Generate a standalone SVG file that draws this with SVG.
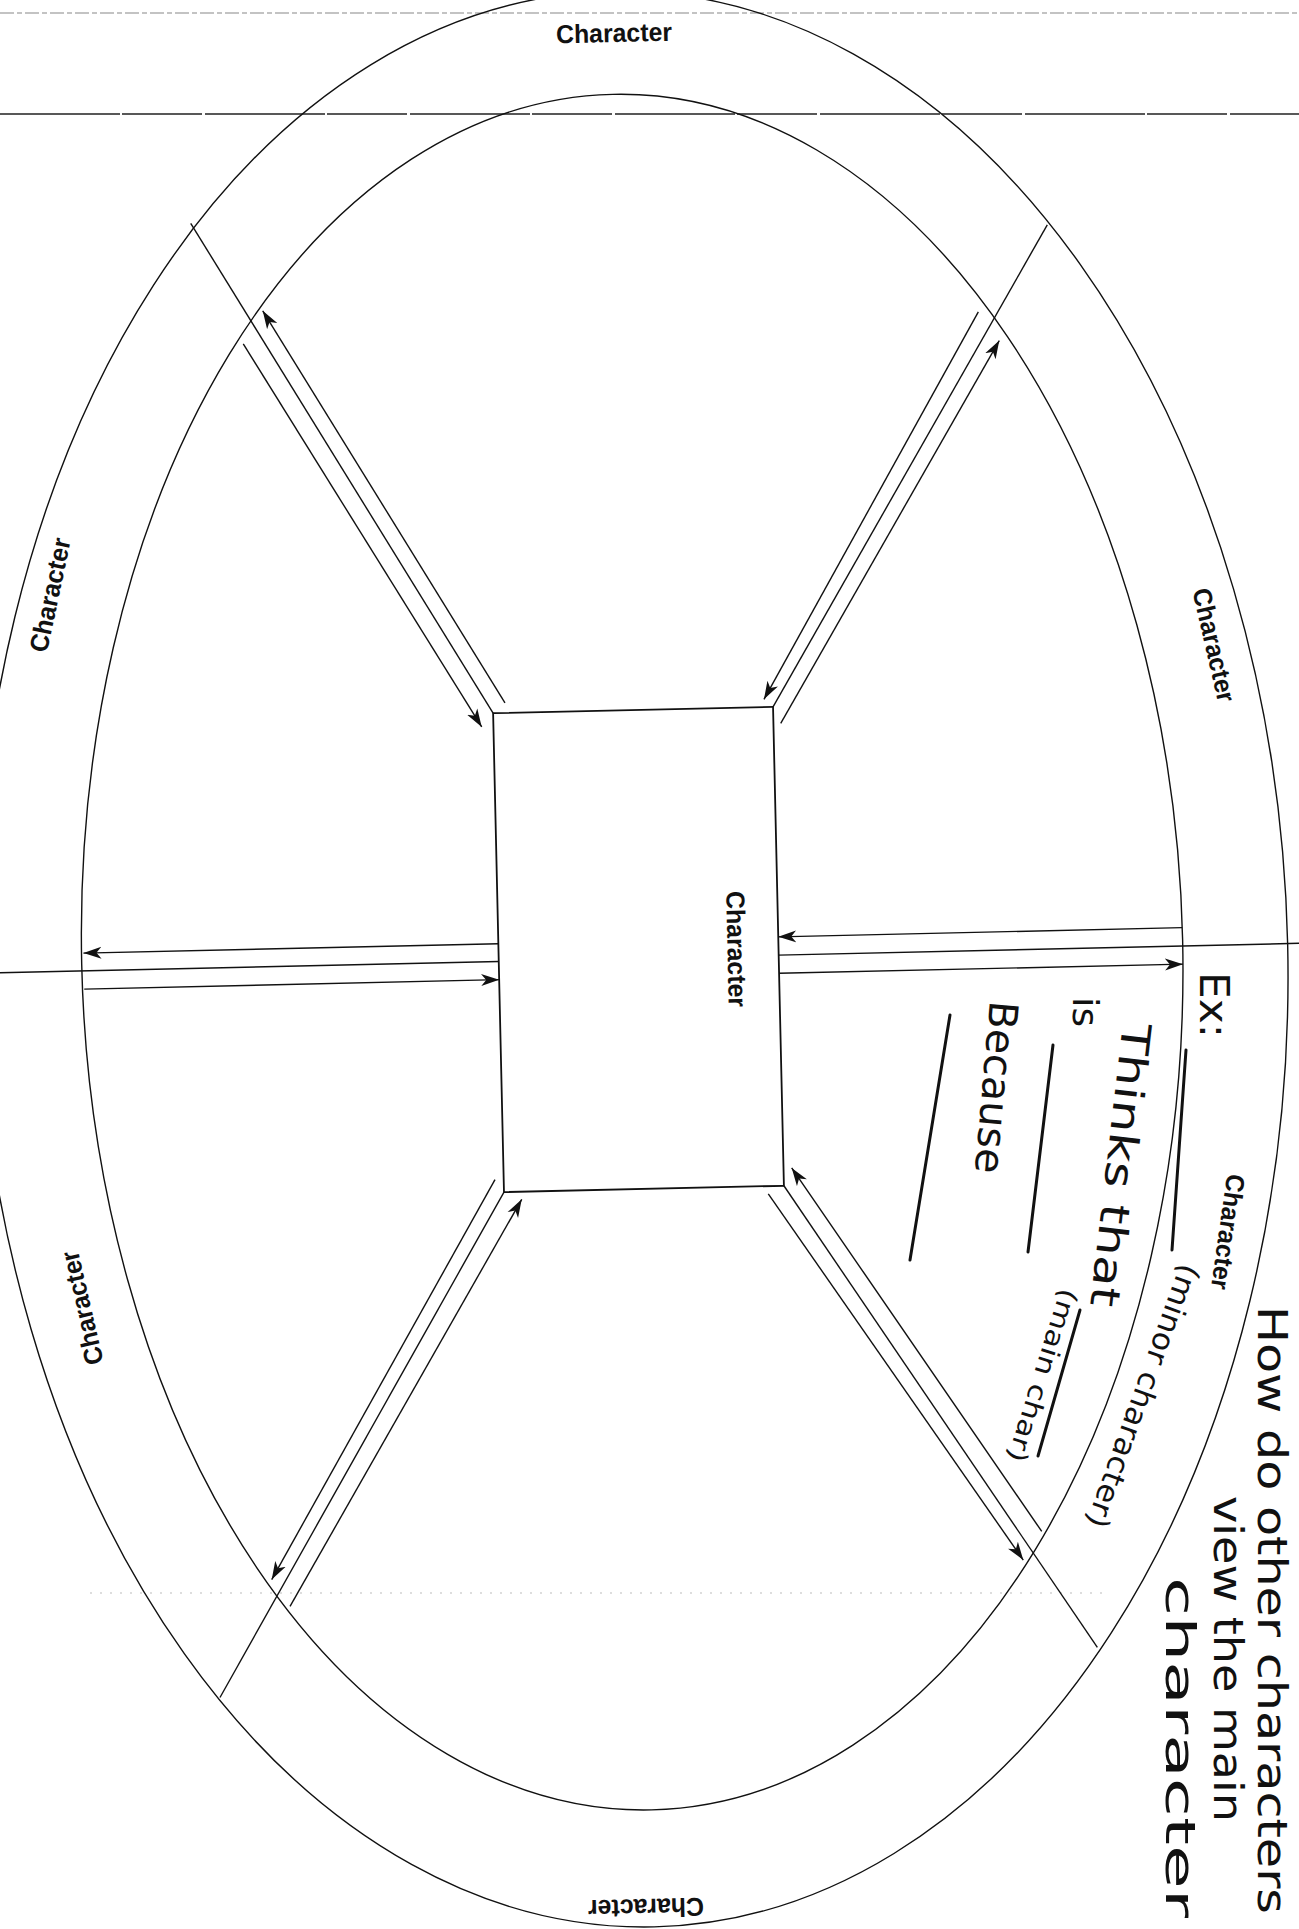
<svg xmlns="http://www.w3.org/2000/svg" width="1299" height="1929" viewBox="0 0 1299 1929">
<defs>
<marker id="ah" markerUnits="userSpaceOnUse" markerWidth="20" markerHeight="14" refX="18" refY="7" orient="auto"><path d="M0,1 L18,7 L0,13 L5,7 Z" fill="#111"/></marker>
</defs>
<style>
.ln{stroke:#111;stroke-width:1.4;fill:none}
.ar{stroke:#111;stroke-width:1.4;fill:none;marker-end:url(#ah)}
.lab{font-family:"Liberation Sans",Arial,sans-serif;font-weight:bold;font-size:26px;fill:#111;text-anchor:middle;dominant-baseline:central}
.hw{font-family:"DejaVu Sans",sans-serif;fill:#111}
.blank{stroke:#111;stroke-width:3;stroke-linecap:round;fill:none}
</style>
<rect width="1299" height="1929" fill="#fff"/>
<g id="page-lines">
<line x1="0" y1="13" x2="1299" y2="13" stroke="#888" stroke-width="1.2" stroke-dasharray="14 3 5 3"/>
<line x1="0" y1="114" x2="1299" y2="114" stroke="#222" stroke-width="1.6" stroke-dasharray="120 2 80 3"/>
<line x1="90" y1="1593" x2="1110" y2="1593" stroke="#bbb" stroke-width="1" stroke-dasharray="2 8"/>
</g>
<g transform="rotate(-1.3 638.5 949)">
<g id="ring">
<ellipse cx="632.1" cy="959" rx="655.5" ry="968" class="ln"/>
<ellipse cx="632.1" cy="952" rx="550.6" ry="858" class="ln"/>
</g>
<g id="center-node"><rect x="498.5" y="710" width="280" height="479" class="ln" style="stroke-width:1.8"/></g>
<g id="connectors">
<line class="ln" x1="498.5" y1="710" x2="207.3" y2="213.4"/>
<line class="ln" x1="778.5" y1="710" x2="1063.6" y2="234.3"/>
<line class="ln" x1="498.5" y1="1189" x2="203.1" y2="1687.8"/>
<line class="ln" x1="778.5" y1="1189" x2="1081.4" y2="1657.7"/>
<line class="ln" x1="-40" y1="958.3" x2="498.5" y2="958.3"/>
<line class="ln" x1="778.5" y1="958.3" x2="1340" y2="958.3"/>
<line class="ar" x1="510.6" y1="699.8" x2="277.3" y2="302.5"/>
<line class="ar" x1="257.1" y1="335.1" x2="486.8" y2="723.4"/>
<line class="ar" x1="992.7" y1="319.8" x2="769.6" y2="702.2"/>
<line class="ar" x1="785.8" y1="726.7" x2="1013" y2="348.9"/>
<line class="ar" x1="489.8" y1="1176.3" x2="257.5" y2="1571.1"/>
<line class="ar" x1="275.2" y1="1598.3" x2="516.1" y2="1196.6"/>
<line class="ar" x1="1028.4" y1="1540.4" x2="786.7" y2="1171.3"/>
<line class="ar" x1="762.7" y1="1196.8" x2="1009.3" y2="1568.6"/>
<line class="ar" x1="498.5" y1="940.5" x2="83.5" y2="940.5"/>
<line class="ar" x1="83.5" y1="976.5" x2="498.5" y2="976.5"/>
<line class="ar" x1="1182.5" y1="940" x2="778.5" y2="940"/>
<line class="ar" x1="778.5" y1="976.5" x2="1182.5" y2="976.5"/>
</g>
</g>
<g id="label-center"><text class="lab" transform="translate(736.5 949) rotate(88.7)" textLength="116" lengthAdjust="spacingAndGlyphs">Character</text></g>
<g id="seg-top"><text class="lab" transform="translate(614 33) rotate(-1.3)" textLength="116" lengthAdjust="spacingAndGlyphs">Character</text></g>
<g id="seg-upper-right"><text class="lab" transform="translate(1214 645) rotate(77)" textLength="116" lengthAdjust="spacingAndGlyphs">Character</text></g>
<g id="seg-lower-right"><text class="lab" transform="translate(1228 1232) rotate(98)" textLength="116" lengthAdjust="spacingAndGlyphs">Character</text></g>
<g id="seg-bottom"><text class="lab" transform="translate(646 1908) rotate(178.7)" textLength="116" lengthAdjust="spacingAndGlyphs">Character</text></g>
<g id="seg-lower-left"><text class="lab" transform="translate(82 1308) rotate(-103)" textLength="116" lengthAdjust="spacingAndGlyphs">Character</text></g>
<g id="seg-upper-left"><text class="lab" transform="translate(50 595) rotate(-78)" textLength="116" lengthAdjust="spacingAndGlyphs">Character</text></g>
<g id="handwriting">
<text class="hw" font-size="40" transform="translate(1258 1306) rotate(90)" textLength="608" lengthAdjust="spacingAndGlyphs">How do other characters</text>
<text class="hw" font-size="40" transform="translate(1214 1496) rotate(90)" textLength="326" lengthAdjust="spacingAndGlyphs">view the main</text>
<text class="hw" font-size="40" transform="translate(1166 1577) rotate(90)" textLength="341" lengthAdjust="spacingAndGlyphs">character</text>
<text class="hw" font-size="40" transform="translate(1200 972) rotate(90)" textLength="66" lengthAdjust="spacingAndGlyphs">Ex:</text>
<text class="hw" font-size="30" transform="translate(1181 1262) rotate(110)" textLength="278" lengthAdjust="spacingAndGlyphs">(minor character)</text>
<text class="hw" font-size="40" transform="translate(1123 1022) rotate(96.6)" textLength="285" lengthAdjust="spacingAndGlyphs">Thinks that</text>
<text class="hw" font-size="26" transform="translate(1061 1287) rotate(107.4)" textLength="180" lengthAdjust="spacingAndGlyphs">(main char)</text>
<text class="hw" font-size="36" transform="translate(1073 997) rotate(90)" textLength="30" lengthAdjust="spacingAndGlyphs">is</text>
<text class="hw" font-size="40" transform="translate(990 1000) rotate(95)" textLength="173" lengthAdjust="spacingAndGlyphs">Because</text>
<line class="blank" x1="1186" y1="1050" x2="1172" y2="1250"/>
<line class="blank" x1="1080" y1="1310" x2="1038" y2="1456"/>
<line class="blank" x1="1053" y1="1045" x2="1028" y2="1252"/>
<line class="blank" x1="950" y1="1015" x2="910" y2="1260"/>
</g>
</svg>
